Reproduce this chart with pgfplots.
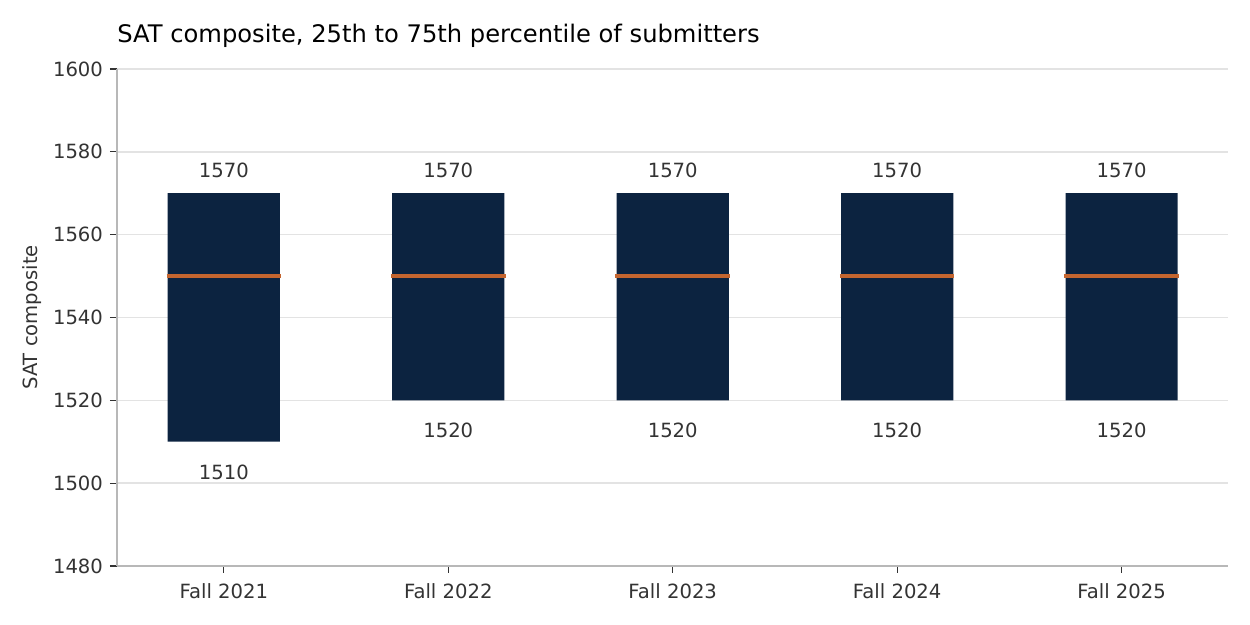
\documentclass[border=0pt]{standalone}
\usepackage{fontspec}
\setmainfont{DejaVu Sans}
\usepackage{pgfplots}
\pgfplotsset{compat=1.18}
\definecolor{navy}{HTML}{0C2340}
\definecolor{medc}{HTML}{C4652F}
\definecolor{txt}{HTML}{333333}
\definecolor{gridc}{HTML}{E3E3E3}
\definecolor{axc}{HTML}{B8B8B8}
\begin{document}
\begin{tikzpicture}
\pgfplotsset{
  common/.style={
    scale only axis, width=555.5pt, height=248.5pt,
    xmin=-0.476, xmax=4.474, ymin=1480, ymax=1600,
  }
}
\begin{axis}[common,
  ybar stacked, bar width=0.5,
  axis x line*=bottom, axis y line*=left,
  axis line style={color=axc, line width=0.6pt},
  xtick={0,1,2,3,4},
  xticklabels={Fall 2021,Fall 2022,Fall 2023,Fall 2024,Fall 2025},
  ytick={1480,1500,...,1600},
  ymajorgrids, grid style={color=gridc, line width=0.8pt},
  tick style={color=txt, line width=0.6pt},
  tick align=outside, major tick length=3.5pt,
  ticklabel style={font=\fontsize{9.8}{11}\selectfont, text=txt},
  xticklabel style={yshift=-2pt},
  /pgf/number format/assume math mode=true,
  /pgf/number format/1000 sep={},
  ylabel={SAT composite},
  ylabel style={font=\fontsize{9.8}{11}\selectfont, text=txt, at={(axis description cs:0,0.5)}, anchor=center, yshift=42.5pt, inner sep=0pt},
  title={SAT composite, 25th to 75th percentile of submitters},
  title style={font=\fontsize{12.1}{14}\selectfont, text=black, at={(axis description cs:0,1)}, anchor=base west, yshift=7pt, inner sep=0pt},
]
\addplot[fill=none, draw=none]
  coordinates {(0,1510) (1,1520) (2,1520) (3,1520) (4,1520)};
\addplot[fill=navy, draw=none]
  coordinates {(0,60) (1,50) (2,50) (3,50) (4,50)};
\end{axis}
\begin{axis}[common, axis lines=none, ticks=none, unbounded coords=jump,
  every node near coord/.append style={font=\fontsize{9.8}{11}\selectfont, text=txt}]
\addplot[medc, line width=2pt] coordinates {
  (-0.255,1550) (0.255,1550) (nan,1550)
  (0.745,1550) (1.255,1550) (nan,1550)
  (1.745,1550) (2.255,1550) (nan,1550)
  (2.745,1550) (3.255,1550) (nan,1550)
  (3.745,1550) (4.255,1550)};
\addplot[draw=none, mark=none, nodes near coords, point meta=explicit symbolic,
  every node near coord/.append style={anchor=south, yshift=4pt}]
  coordinates {(0,1570)[1570] (1,1570)[1570] (2,1570)[1570] (3,1570)[1570] (4,1570)[1570]};
\addplot[draw=none, mark=none, nodes near coords, point meta=explicit symbolic,
  every node near coord/.append style={anchor=north, yshift=-8pt}]
  coordinates {(0,1510)[1510] (1,1520)[1520] (2,1520)[1520] (3,1520)[1520] (4,1520)[1520]};
\end{axis}
\path (-58.5pt,-29.5pt) rectangle (566.5pt,283pt);
\end{tikzpicture}
\end{document}
